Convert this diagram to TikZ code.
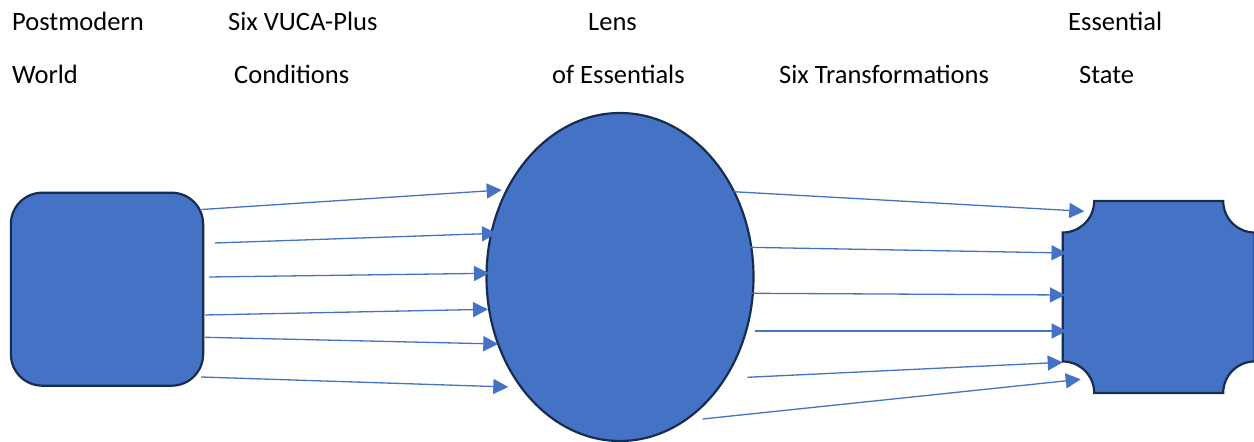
\documentclass[tikz,border=0pt]{standalone}
\usepackage{fontspec}
\setmainfont{Carlito}
\usetikzlibrary{shapes.geometric,arrows.meta}
\definecolor{fillblue}{HTML}{4472C4}
\definecolor{edgeblue}{HTML}{172C51}
\begin{document}
\begin{tikzpicture}[x=1pt,y=1pt,
  lbl/.style={anchor=base west,inner sep=0pt,font=\fontsize{26.5}{30}\selectfont},
  shp/.style={draw=edgeblue,fill=fillblue,line width=2.2pt},
  arr/.style={draw=fillblue,line width=1.3pt,-{Triangle[length=15pt,width=15pt]}}]
\useasboundingbox (0,0) rectangle (1254,442);
% labels
\node[lbl] (t1a) at (12,411) {Postmodern};
\node[lbl] (t1b) at (12,358) {World};
\node[lbl] (t2a) at (228,411) {Six VUCA-Plus};
\node[lbl] (t2b) at (234,358) {Conditions};
\node[lbl] (t3a) at (588,411) {Lens};
\node[lbl] (t3b) at (552,358) {of Essentials};
\node[lbl] (t4) at (779,358) {Six Transformations};
\node[lbl] (t5a) at (1068,411) {Essential};
\node[lbl] (t5b) at (1079,358) {State};
% shapes
\node[shp,rounded corners=31.5pt,minimum width=192.3pt,minimum height=193pt,inner sep=0pt] (world) at (107,152.8) {};
\node[shp,ellipse,minimum width=267pt,minimum height=328pt,inner sep=0pt] (lens) at (620,165) {};
\coordinate (state) at (1158.7,145);
\path[shp] (1094.2,241) -- (1223.2,241) arc[start angle=180,end angle=270,radius=31.5pt]
  -- (1254.7,80.5) arc[start angle=90,end angle=180,radius=31.5pt]
  -- (1094.2,49) arc[start angle=0,end angle=90,radius=31.5pt]
  -- (1062.7,209.5) arc[start angle=270,end angle=360,radius=31.5pt] -- cycle;
% arrow end points
\coordinate (l1s) at (201.7,232.5); \coordinate (l1e) at (501.7,252);
\coordinate (l2s) at (215,199);     \coordinate (l2e) at (497,208.7);
\coordinate (l3s) at (209,165);     \coordinate (l3e) at (489,168.7);
\coordinate (l4s) at (205,127);     \coordinate (l4e) at (488,132.7);
\coordinate (l5s) at (205,104.7);   \coordinate (l5e) at (498.3,98);
\coordinate (l6s) at (201,65);      \coordinate (l6e) at (508.3,55);
\coordinate (r1s) at (733.3,250.3); \coordinate (r1e) at (1084.3,230.7);
\coordinate (r2s) at (748.3,194.7); \coordinate (r2e) at (1066.5,189);
\coordinate (r3s) at (751.7,148.7); \coordinate (r3e) at (1065,147);
\coordinate (r4s) at (755,111);     \coordinate (r4e) at (1066.7,111);
\coordinate (r5s) at (747.3,64.7);  \coordinate (r5e) at (1062.7,79.7);
\coordinate (r6s) at (702.7,23);    \coordinate (r6e) at (1080.7,62.7);
\foreach \i in {1,...,6} {
  \draw[arr] (l\i s) -- (l\i e);
  \draw[arr] (r\i s) -- (r\i e);
}
\end{tikzpicture}
\end{document}
